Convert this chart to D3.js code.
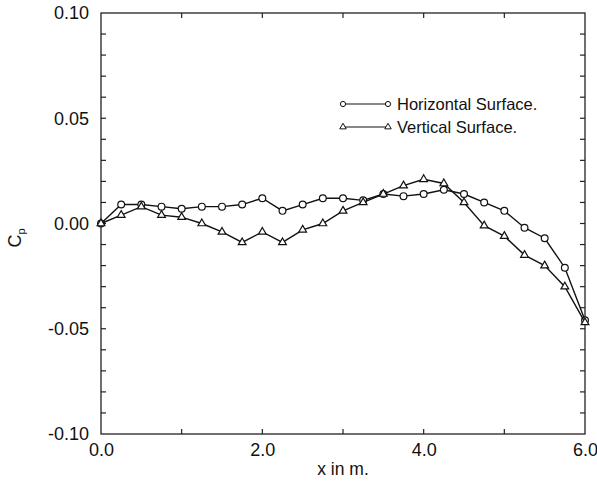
<!DOCTYPE html>
<html><head><meta charset="utf-8">
<script src="https://cdn.jsdelivr.net/npm/d3@7"></script>
<style>body{margin:0;background:#fff}svg{display:block}text{font-family:"Liberation Sans",Arial,sans-serif;fill:#111}</style>
</head><body><svg id="c" width="597" height="484"></svg>
<script>
const xVals = [0,0.25,0.5,0.75,1.0,1.25,1.5,1.75,2.0,2.25,2.5,2.75,3.0,3.25,3.5,3.75,4.0,4.25,4.5,4.75,5.0,5.25,5.5,5.75,6.0];
const horizontal = [0.000,0.009,0.009,0.008,0.007,0.008,0.008,0.009,0.012,0.006,0.009,0.012,0.012,0.011,0.014,0.013,0.014,0.016,0.014,0.010,0.006,-0.002,-0.007,-0.021,-0.046];
const vertical = [0.000,0.004,0.008,0.004,0.003,0.000,-0.004,-0.009,-0.004,-0.009,-0.003,0.000,0.006,0.010,0.014,0.018,0.021,0.019,0.010,-0.001,-0.006,-0.015,-0.020,-0.030,-0.047];
const seriesNames = ["Horizontal Surface.","Vertical Surface."];
const xTickLabels = [0,2,4,6];
const yTickLabels = [-0.10,-0.05,0.00,0.05,0.10];

const svg = d3.select("#c");
const L=101, R=585, T=13, B=434;
const x = d3.scaleLinear().domain([0,6]).range([L,R]);
const y = d3.scaleLinear().domain([-0.1,0.1]).range([B,T]);
const FONT = "Liberation Sans, Arial, sans-serif";

// frame
svg.append("rect").attr("x",L).attr("y",T).attr("width",R-L).attr("height",B-T)
  .attr("fill","none").attr("stroke","#222").attr("stroke-width",1.3);

// ticks (inward)
const g = svg.append("g").attr("stroke","#222").attr("stroke-width",1.2);
d3.range(1,6).forEach(v=>{
  g.append("line").attr("x1",x(v)).attr("x2",x(v)).attr("y1",B).attr("y2",B-5);
  g.append("line").attr("x1",x(v)).attr("x2",x(v)).attr("y1",T).attr("y2",T+5);
});
d3.range(-9,10).forEach(i=>{
  const v=i/100;
  g.append("line").attr("x1",L).attr("x2",L+5).attr("y1",y(v)).attr("y2",y(v));
  g.append("line").attr("x1",R).attr("x2",R-5).attr("y1",y(v)).attr("y2",y(v));
});

const hy = f => (v => f(v).replace("\u2212","-"));
const xAxis = svg.append("g").attr("transform",`translate(0,${B})`)
  .call(d3.axisBottom(x).tickValues(xTickLabels).tickFormat(hy(d3.format(".1f"))).tickSize(0).tickPadding(9));
xAxis.select(".domain").remove();
xAxis.selectAll("text").attr("font-size",18).attr("font-family",FONT).attr("fill","#111");
const yAxis = svg.append("g").attr("transform",`translate(${L},0)`)
  .call(d3.axisLeft(y).tickValues(yTickLabels).tickFormat(hy(d3.format(".2f"))).tickSize(0).tickPadding(12));
yAxis.select(".domain").remove();
yAxis.selectAll("text").attr("font-size",18).attr("font-family",FONT).attr("fill","#111");

svg.append("text").attr("x",(L+R)/2).attr("y",475).attr("text-anchor","middle").attr("font-size",17.5).text("x in m.");
const yl = svg.append("text").attr("transform","translate(21,238) rotate(-90)").attr("text-anchor","middle").attr("font-size",18);
yl.append("tspan").text("C");
yl.append("tspan").attr("font-size",11).attr("dy",4).text("p");

// series
const line = d3.line().x((d,i)=>x(xVals[i])).y(d=>y(d));
const tri = d3.symbol().type(d3.symbolTriangle).size(26);
function drawSeries(vals, marker){
  svg.append("path").datum(vals).attr("d",line).attr("fill","none").attr("stroke","#111").attr("stroke-width",1.4);
  const pts = svg.append("g");
  vals.forEach((v,i)=>{
    if(marker==="circle") pts.append("circle").attr("cx",x(xVals[i])).attr("cy",y(v)).attr("r",3.4)
      .attr("fill","#fff").attr("stroke","#111").attr("stroke-width",1.2);
    else pts.append("path").attr("d",tri).attr("transform",`translate(${x(xVals[i])},${y(v)})`)
      .attr("fill","#fff").attr("stroke","#111").attr("stroke-width",1.2);
  });
}
drawSeries(horizontal,"circle");
drawSeries(vertical,"tri");

// legend
const leg = [{n:seriesNames[0],m:"circle",yy:104},{n:seriesNames[1],m:"tri",yy:127}];
leg.forEach(l=>{
  svg.append("line").attr("x1",343).attr("x2",388).attr("y1",l.yy).attr("y2",l.yy).attr("stroke","#111").attr("stroke-width",1.1);
  [343,388].forEach(cx=>{
    if(l.m==="circle") svg.append("circle").attr("cx",cx).attr("cy",l.yy).attr("r",2.6).attr("fill","#fff").attr("stroke","#111");
    else svg.append("path").attr("d",d3.symbol().type(d3.symbolTriangle).size(18)).attr("transform",`translate(${cx},${l.yy})`).attr("fill","#fff").attr("stroke","#111");
  });
  svg.append("text").attr("x",397).attr("y",l.yy+6).attr("font-size",16.5).text(l.n);
});
</script></body></html>
